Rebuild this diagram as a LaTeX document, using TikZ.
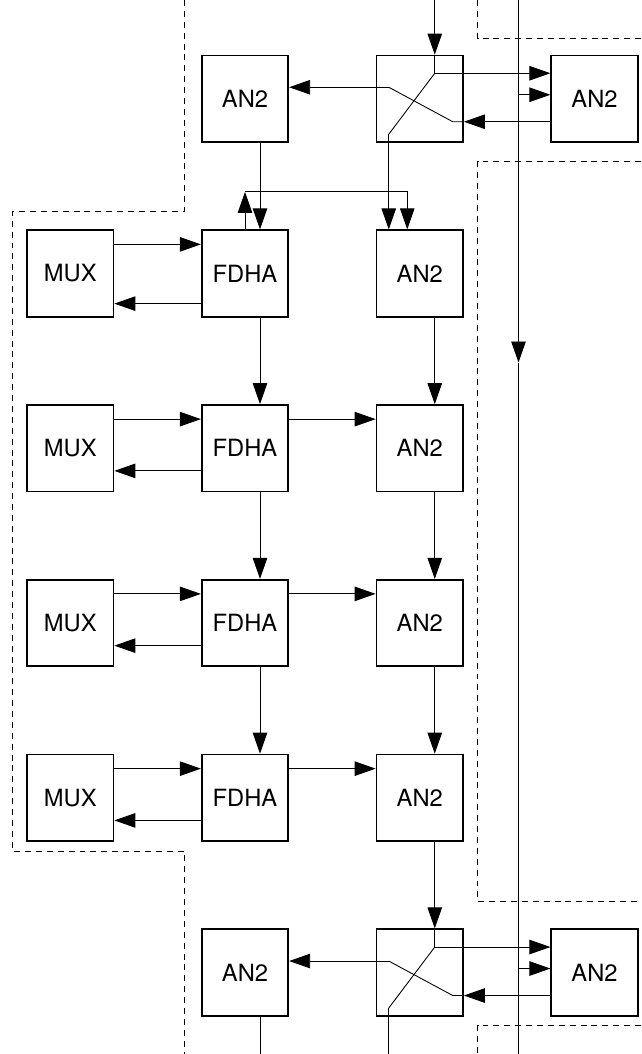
\documentclass[tikz,border=0pt]{standalone}
\usepackage{fontspec}
\setmainfont{TeX Gyre Heros}
\usetikzlibrary{arrows.meta, positioning}

\begin{document}
\begin{tikzpicture}[
  node distance = 1.73cm and 1.73cm,
  box/.style  = {rectangle, draw, line width=1pt, minimum size=1.73cm,
                 inner sep=0pt, font=\fontsize{13.5}{16}\selectfont},
  arr/.style  = {-{Triangle[length=0.42cm, width=0.29cm]}, line width=0.5pt},
  wire/.style = {line width=0.5pt},
  zone/.style = {line width=0.5pt, dash pattern=on 3.4pt off 2.8pt},
]
\useasboundingbox (0,0) rectangle (12.82,-21.08);
\node[box]                  (fdha1) at (4.90,-5.47) {FDHA};
\node[box, left=of fdha1]   (mux1)  {MUX};
\node[box, right=of fdha1]  (and1)  {AN2};
\node[box, below=of fdha1]  (fdha2) {FDHA};
\node[box, left=of fdha2]   (mux2)  {MUX};
\node[box, right=of fdha2]  (and2)  {AN2};
\node[box, below=of fdha2]  (fdha3) {FDHA};
\node[box, left=of fdha3]   (mux3)  {MUX};
\node[box, right=of fdha3]  (and3)  {AN2};
\node[box, below=of fdha3]  (fdha4) {FDHA};
\node[box, left=of fdha4]   (mux4)  {MUX};
\node[box, right=of fdha4]  (and4)  {AN2};
\node[box, above=of fdha1]  (anL0)  {AN2};
\node[box, above=of and1]   (sw0)   {};
\node[box, right=of sw0]    (anR0)  {AN2};
\node[box, below=of fdha4]  (anL5)  {AN2};
\node[box, below=of and4]   (sw5)   {};
\node[box, right=of sw5]    (anR5)  {AN2};
\coordinate (bustop) at (10.37,0);
\coordinate (busmid) at (10.37,-7.25);
\coordinate (busbot) at (10.37,-21.08);
\draw[arr]  (bustop) -- (busmid);
\draw[wire] (busmid) -- (busbot);
\foreach \s/\l/\r in {sw0/anL0/anR0, sw5/anL5/anR5} {
  \coordinate (\s-a) at ([shift={(0.30,0.51)}]\s.center);
  \coordinate (\s-b) at ([shift={(-0.62,-0.71)}]\s.center);
  \coordinate (\s-c) at ([shift={(0.66,-0.46)}]\s.center);
  \coordinate (\s-d) at ([shift={(-0.62,0.23)}]\s.center);
  \coordinate (\s-e) at ([yshift=0.08cm]\r.west);
  \draw[arr]  (\s-a |- \s.north) -- (\s-a) -- (\s-a -| \r.west);
  \draw[wire] (\s-a) -- (\s-b);
  \draw[arr]  (\s-c -| \r.west) -- (\s-c -| \s.east);
  \draw[wire] (\s-c -| \s.east) -- (\s-c) -- (\s-d);
  \draw[arr]  (\s-d) -- (\s-d -| \l.east);
  \draw[arr]  (\s-e -| bustop) -- (\s-e);
}
\draw[arr]  (sw0-a |- bustop) -- (sw0-a |- sw0.north);
\draw[arr]  (sw0-b) -- (sw0-b |- and1.north);
\draw[wire] (sw5-b) -- (sw5-b |- busbot);
\draw[arr]  ([xshift=0.3cm]anL0.south) -- ([xshift=0.3cm]fdha1.north);
\coordinate (fb)   at ([yshift=0.75cm]fdha1.north);
\coordinate (fbin) at ([xshift=-0.25cm]and1.north);
\draw[arr]  (fdha1.north) -- (fb);
\draw[arr]  (fb) -- (fb -| fbin) -- (fbin);
\foreach \i/\j in {1/2,2/3,3/4} {
  \draw[arr] ([xshift=0.3cm]fdha\i.south) -- ([xshift=0.3cm]fdha\j.north);
  \draw[arr] ([xshift=0.3cm]and\i.south) -- ([xshift=0.3cm]and\j.north);
}
\draw[arr]  ([xshift=0.3cm]and4.south) -- ([xshift=0.3cm]sw5.north);
\draw[wire] ([xshift=0.3cm]anL5.south) -- ([xshift=0.3cm]anL5.south |- busbot);
\foreach \i/\o in {1/0.28,2/0.43,3/0.43,4/0.43} {
  \draw[arr] ([yshift=-0.3cm]mux\i.north east) -- ([yshift=-0.3cm]fdha\i.north west);
  \draw[arr] ([yshift=\o cm]fdha\i.south west) -- ([yshift=\o cm]mux\i.south east);
}
\foreach \i in {2,3,4}
  \draw[arr] ([yshift=-0.3cm]fdha\i.north east) -- ([yshift=-0.3cm]and\i.north west);
\draw[zone] (3.68,0) -- (3.68,-4.23) -- (0.25,-4.23) -- (0.25,-17.02) -- (3.68,-17.02) -- (3.68,-21.08);
\draw[zone] (9.55,0) -- (9.55,-0.77) -- (12.82,-0.77);
\draw[zone] (12.82,-3.23) -- (9.55,-3.23) -- (9.55,-18.03) -- (12.82,-18.03);
\draw[zone] (12.82,-20.51) -- (9.55,-20.51) -- (9.55,-21.08);
\end{tikzpicture}
\end{document}
